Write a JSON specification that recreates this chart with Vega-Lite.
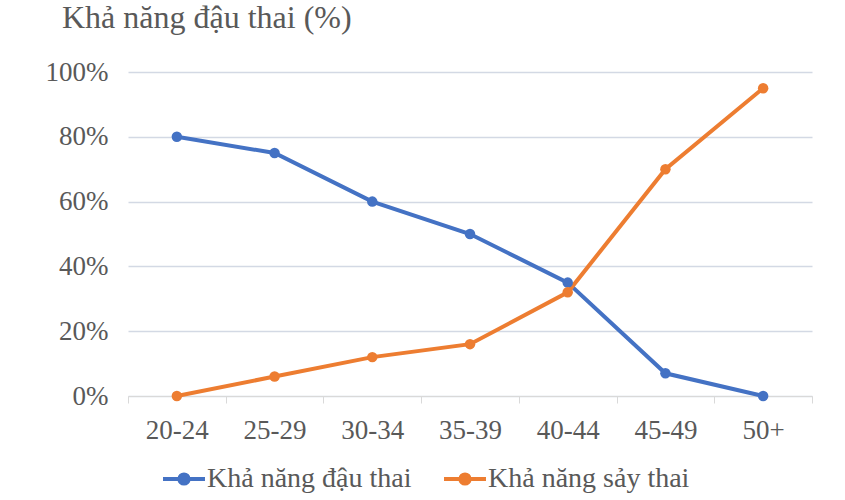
{
  "$schema": "https://vega.github.io/schema/vega-lite/v6.json",
  "autosize": {"type": "none"},
  "width": 684,
  "height": 324,
  "padding": {"left": 128, "top": 72, "right": 33, "bottom": 104},
  "background": "white",
  "title": {
    "text": "Khả năng đậu thai (%)",
    "anchor": "start",
    "frame": "group",
    "dx": -66,
    "offset": -2,
    "baseline": "alphabetic",
    "font": "Liberation Serif",
    "fontSize": 32,
    "fontWeight": "normal",
    "color": "#595959"
  },
  "data": {
    "values": [
      {"age": "20-24", "series": "Khả năng đậu thai", "value": 80},
      {"age": "25-29", "series": "Khả năng đậu thai", "value": 75},
      {"age": "30-34", "series": "Khả năng đậu thai", "value": 60},
      {"age": "35-39", "series": "Khả năng đậu thai", "value": 50},
      {"age": "40-44", "series": "Khả năng đậu thai", "value": 35},
      {"age": "45-49", "series": "Khả năng đậu thai", "value": 7},
      {"age": "50+", "series": "Khả năng đậu thai", "value": 0},
      {"age": "20-24", "series": "Khả năng sảy thai", "value": 0},
      {"age": "25-29", "series": "Khả năng sảy thai", "value": 6},
      {"age": "30-34", "series": "Khả năng sảy thai", "value": 12},
      {"age": "35-39", "series": "Khả năng sảy thai", "value": 16},
      {"age": "40-44", "series": "Khả năng sảy thai", "value": 32},
      {"age": "45-49", "series": "Khả năng sảy thai", "value": 70},
      {"age": "50+", "series": "Khả năng sảy thai", "value": 95}
    ]
  },
  "mark": {"type": "line", "strokeWidth": 4, "point": {"size": 110, "filled": true, "opacity": 1}},
  "encoding": {
    "x": {
      "field": "age",
      "type": "ordinal",
      "sort": null,
      "title": null,
      "scale": {"type": "band", "paddingInner": 0, "paddingOuter": 0},
      "axis": {
        "labelAngle": 0,
        "tickBand": "extent",
        "tickSize": 7,
        "tickColor": "#d9d9d9",
        "domainColor": "#d9d9d9",
        "labelPadding": 14,
        "grid": false
      }
    },
    "y": {
      "field": "value",
      "type": "quantitative",
      "title": null,
      "scale": {"domain": [0, 100]},
      "axis": {
        "values": [0, 20, 40, 60, 80, 100],
        "labelExpr": "datum.value + '%'",
        "domain": false,
        "ticks": false,
        "labelPadding": 20,
        "gridColor": "#d3d9e4",
        "gridWidth": 1.5
      }
    },
    "color": {
      "field": "series",
      "type": "nominal",
      "title": null,
      "scale": {"domain": ["Khả năng đậu thai", "Khả năng sảy thai"], "range": ["#4472c4", "#ed7d31"]},
      "legend": {
        "orient": "none",
        "legendX": 33,
        "legendY": 384,
        "direction": "horizontal",
        "symbolType": "M-1,0L1,0M-0.22,0A0.22,0.22 0 1,0 0.22,0A0.22,0.22 0 1,0 -0.22,0",
        "symbolSize": 1760,
        "symbolStrokeWidth": 4,
        "columnPadding": 24,
        "labelOffset": 0
      }
    }
  },
  "config": {
    "view": {"stroke": null},
    "axis": {
      "labelFont": "Liberation Serif",
      "labelFontSize": 27,
      "labelColor": "#595959"
    },
    "legend": {
      "labelFont": "Liberation Serif",
      "labelFontSize": 28,
      "labelColor": "#595959",
      "labelLimit": 400
    }
  }
}
